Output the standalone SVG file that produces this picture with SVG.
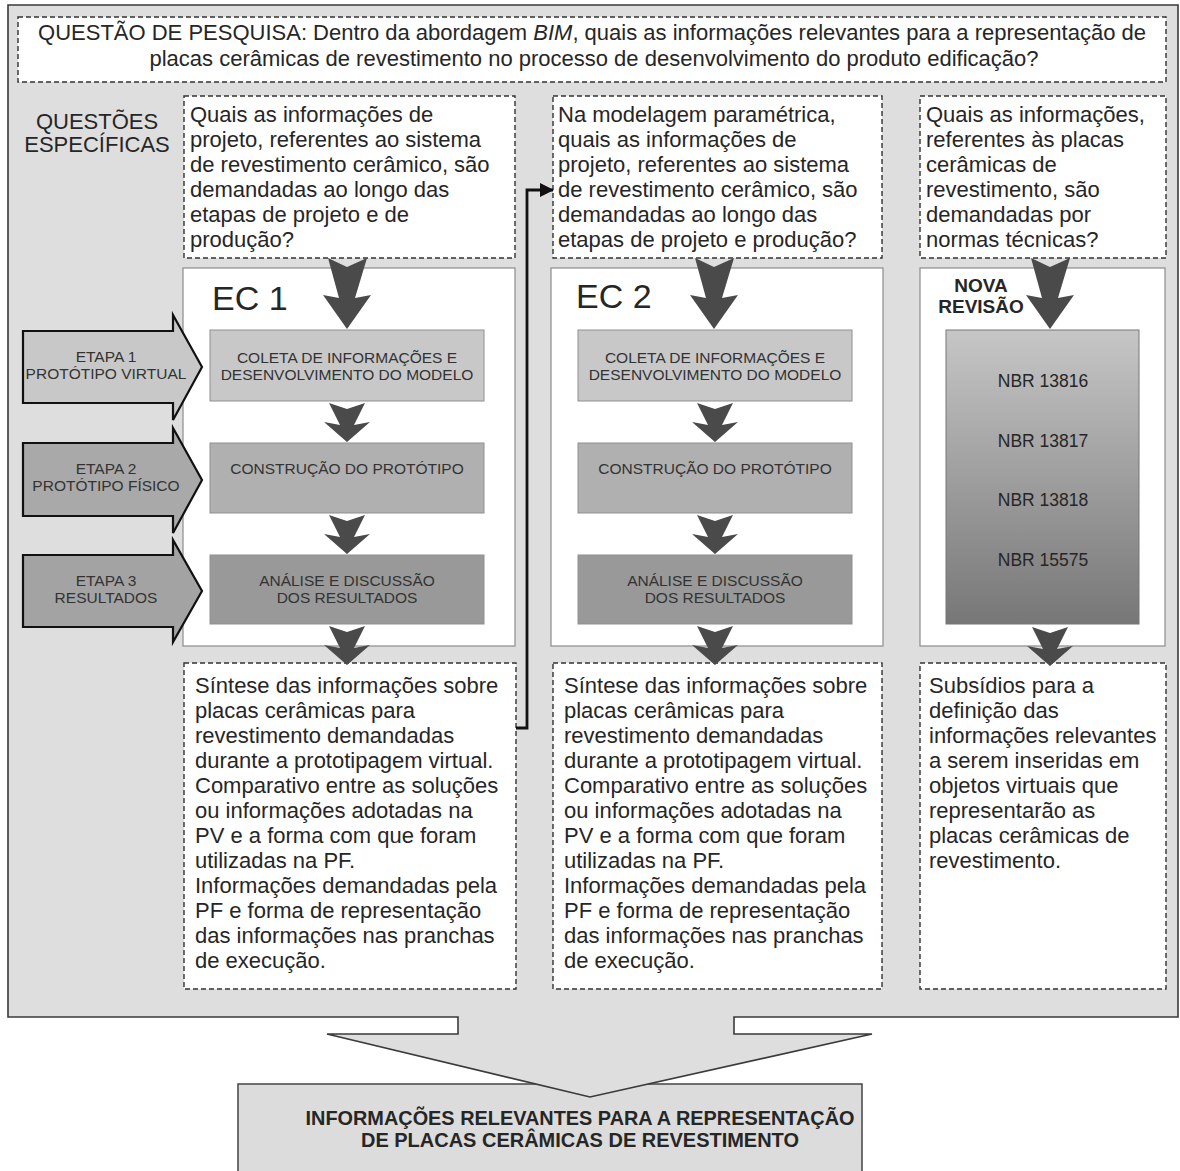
<svg xmlns="http://www.w3.org/2000/svg" width="1180" height="1171" viewBox="0 0 1180 1171">
<defs>
<style>
text{font-family:"Liberation Sans",Arial,sans-serif;fill:#262626}
.q{font-size:22px}
.dash{fill:#fff;stroke:#333;stroke-width:1.4;stroke-dasharray:5 3}
.panel{fill:#fff;stroke:#8c8c8c;stroke-width:1.2}
.lbl{font-size:15.5px;text-anchor:middle;fill:#333}
.arr{fill:#4a4a4a}
.etapa{stroke:#111;stroke-width:2.2}
.bx{stroke:#8f8f8f;stroke-width:1}
</style>
<linearGradient id="nbr" x1="0" y1="0" x2="0" y2="1">
<stop offset="0" stop-color="#c6c6c6"/>
<stop offset="1" stop-color="#777777"/>
</linearGradient>
<marker id="ah" viewBox="0 0 14 14" refX="13" refY="7" markerWidth="14" markerHeight="14" orient="auto" markerUnits="userSpaceOnUse">
<path d="M0,0 L14,7 L0,14 Z" fill="#111"/>
</marker>
<path id="big" d="M-19,0 L0,9 L20,0 L8,40 L24,37 L0,71 L-24,37 L-8,40 Z"/>
<path id="small" d="M-18,0 L0,6 L18,0 L7,22 L23,19 L0,39 L-23,19 L-7,22 Z"/>
</defs>

<g id="result">
<rect x="238" y="1084" width="624" height="95" fill="#dcdcdc" stroke="#444" stroke-width="1.5"/>
<text x="580" y="1125" text-anchor="middle" font-weight="bold" font-size="21" textLength="549" lengthAdjust="spacingAndGlyphs">INFORMAÇÕES RELEVANTES PARA A REPRESENTAÇÃO</text>
<text x="580" y="1147" text-anchor="middle" font-weight="bold" font-size="21" textLength="438" lengthAdjust="spacingAndGlyphs">DE PLACAS CERÂMICAS DE REVESTIMENTO</text>
</g>

<g id="frame">
<path d="M8,5 H1178 V1017 H734 V1034 H872 L590,1097 L327,1034 H458 V1017 H8 Z" fill="#dedede" stroke="#3a3a3a" stroke-width="1.6"/>
</g>

<g id="research-question">
<rect class="dash" x="18" y="17" width="1148" height="65"/>
<text class="q" x="592" y="40" text-anchor="middle">QUESTÃO DE PESQUISA: Dentro da abordagem <tspan font-style="italic">BIM</tspan>, quais as informações relevantes para a representação de</text>
<text class="q" x="594" y="66" text-anchor="middle">placas cerâmicas de revestimento no processo de desenvolvimento do produto edificação?</text>
</g>

<g id="label-specific">
<text class="q" x="97" y="129" text-anchor="middle">QUESTÕES</text>
<text class="q" x="97" y="152" text-anchor="middle">ESPECÍFICAS</text>
</g>

<g id="q1">
<rect class="dash" x="184" y="96" width="331" height="162"/>
<text class="q" x="190" y="122">Quais as informações de</text>
<text class="q" x="190" y="147">projeto, referentes ao sistema</text>
<text class="q" x="190" y="172">de revestimento cerâmico, são</text>
<text class="q" x="190" y="197">demandadas ao longo das</text>
<text class="q" x="190" y="222">etapas de projeto e de</text>
<text class="q" x="190" y="247">produção?</text>
</g>

<g id="q2">
<rect class="dash" x="553" y="96" width="329" height="162"/>
<text class="q" x="558" y="122">Na modelagem paramétrica,</text>
<text class="q" x="558" y="147">quais as informações de</text>
<text class="q" x="558" y="172">projeto, referentes ao sistema</text>
<text class="q" x="558" y="197">de revestimento cerâmico, são</text>
<text class="q" x="558" y="222">demandadas ao longo das</text>
<text class="q" x="558" y="247">etapas de projeto e produção?</text>
</g>

<g id="q3">
<rect class="dash" x="920" y="96" width="246" height="162"/>
<text class="q" x="926" y="122">Quais as informações,</text>
<text class="q" x="926" y="147">referentes às placas</text>
<text class="q" x="926" y="172">cerâmicas de</text>
<text class="q" x="926" y="197">revestimento, são</text>
<text class="q" x="926" y="222">demandadas por</text>
<text class="q" x="926" y="247">normas técnicas?</text>
</g>

<g id="ec1">
<rect class="panel" x="183" y="268" width="332" height="378"/>
<text x="212" y="310" font-size="34">EC 1</text>
<rect class="bx" x="210" y="330" width="274" height="71" fill="#c8c8c8"/>
<text class="lbl" x="347" y="363">COLETA DE INFORMAÇÕES E</text>
<text class="lbl" x="347" y="380">DESENVOLVIMENTO DO MODELO</text>
<rect class="bx" x="210" y="443" width="274" height="70" fill="#b0b0b0"/>
<text class="lbl" x="347" y="474">CONSTRUÇÃO DO PROTÓTIPO</text>
<rect class="bx" x="210" y="555" width="274" height="69" fill="#999999"/>
<text class="lbl" x="347" y="586">ANÁLISE E DISCUSSÃO</text>
<text class="lbl" x="347" y="603">DOS RESULTADOS</text>
</g>

<g id="ec2">
<rect class="panel" x="551" y="268" width="332" height="378"/>
<text x="576" y="308" font-size="34">EC 2</text>
<rect class="bx" x="578" y="330" width="274" height="71" fill="#c8c8c8"/>
<text class="lbl" x="715" y="363">COLETA DE INFORMAÇÕES E</text>
<text class="lbl" x="715" y="380">DESENVOLVIMENTO DO MODELO</text>
<rect class="bx" x="578" y="443" width="274" height="70" fill="#b0b0b0"/>
<text class="lbl" x="715" y="474">CONSTRUÇÃO DO PROTÓTIPO</text>
<rect class="bx" x="578" y="555" width="274" height="69" fill="#999999"/>
<text class="lbl" x="715" y="586">ANÁLISE E DISCUSSÃO</text>
<text class="lbl" x="715" y="603">DOS RESULTADOS</text>
</g>

<g id="nova-revisao">
<rect class="panel" x="920" y="268" width="245" height="378"/>
<text x="981" y="292" text-anchor="middle" font-weight="bold" font-size="19">NOVA</text>
<text x="981" y="313" text-anchor="middle" font-weight="bold" font-size="19">REVISÃO</text>
<rect x="946" y="330" width="193" height="294" fill="url(#nbr)" stroke="#777" stroke-width="1"/>
<text x="1043" y="387" text-anchor="middle" font-size="17.5">NBR 13816</text>
<text x="1043" y="447" text-anchor="middle" font-size="17.5">NBR 13817</text>
<text x="1043" y="506" text-anchor="middle" font-size="17.5">NBR 13818</text>
<text x="1043" y="566" text-anchor="middle" font-size="17.5">NBR 15575</text>
</g>

<g id="etapas">
<g id="etapa1">
<path class="etapa" d="M23,331 H173 V315 L202,367 L173,420 V403 H23 Z" fill="#c8c8c8"/>
<text class="lbl" x="106" y="362">ETAPA 1</text>
<text class="lbl" x="106" y="379">PROTÓTIPO VIRTUAL</text>
</g>
<g id="etapa2">
<path class="etapa" d="M23,443 H173 V428 L202,480 L173,533 V516 H23 Z" fill="#a9a9a9"/>
<text class="lbl" x="106" y="474">ETAPA 2</text>
<text class="lbl" x="106" y="491">PROTÓTIPO FÍSICO</text>
</g>
<g id="etapa3">
<path class="etapa" d="M23,555 H173 V540 L202,591 L173,642 V627 H23 Z" fill="#a3a3a3"/>
<text class="lbl" x="106" y="586">ETAPA 3</text>
<text class="lbl" x="106" y="603">RESULTADOS</text>
</g>
</g>

<g id="s1">
<rect class="dash" x="184" y="663" width="332" height="326"/>
<text class="q" x="195" y="693">Síntese das informações sobre</text>
<text class="q" x="195" y="718">placas cerâmicas para</text>
<text class="q" x="195" y="743">revestimento demandadas</text>
<text class="q" x="195" y="768">durante a prototipagem virtual.</text>
<text class="q" x="195" y="793">Comparativo entre as soluções</text>
<text class="q" x="195" y="818">ou informações adotadas na</text>
<text class="q" x="195" y="843">PV e a forma com que foram</text>
<text class="q" x="195" y="868">utilizadas na PF.</text>
<text class="q" x="195" y="893">Informações demandadas pela</text>
<text class="q" x="195" y="918">PF e forma de representação</text>
<text class="q" x="195" y="943">das informações nas pranchas</text>
<text class="q" x="195" y="968">de execução.</text>
</g>

<g id="s2">
<rect class="dash" x="553" y="663" width="329" height="326"/>
<text class="q" x="564" y="693">Síntese das informações sobre</text>
<text class="q" x="564" y="718">placas cerâmicas para</text>
<text class="q" x="564" y="743">revestimento demandadas</text>
<text class="q" x="564" y="768">durante a prototipagem virtual.</text>
<text class="q" x="564" y="793">Comparativo entre as soluções</text>
<text class="q" x="564" y="818">ou informações adotadas na</text>
<text class="q" x="564" y="843">PV e a forma com que foram</text>
<text class="q" x="564" y="868">utilizadas na PF.</text>
<text class="q" x="564" y="893">Informações demandadas pela</text>
<text class="q" x="564" y="918">PF e forma de representação</text>
<text class="q" x="564" y="943">das informações nas pranchas</text>
<text class="q" x="564" y="968">de execução.</text>
</g>

<g id="s3">
<rect class="dash" x="920" y="663" width="246" height="326"/>
<text class="q" x="929" y="693">Subsídios para a</text>
<text class="q" x="929" y="718">definição das</text>
<text class="q" x="929" y="743">informações relevantes</text>
<text class="q" x="929" y="768">a serem inseridas em</text>
<text class="q" x="929" y="793">objetos virtuais que</text>
<text class="q" x="929" y="818">representarão as</text>
<text class="q" x="929" y="843">placas cerâmicas de</text>
<text class="q" x="929" y="868">revestimento.</text>
</g>

<g id="connectors">
<use href="#big" class="arr" x="347" y="258"/>
<use href="#small" class="arr" x="347" y="403"/>
<use href="#small" class="arr" x="347" y="515"/>
<use href="#small" class="arr" x="347" y="626"/>
<use href="#big" class="arr" x="714" y="258"/>
<use href="#small" class="arr" x="715" y="403"/>
<use href="#small" class="arr" x="715" y="515"/>
<use href="#small" class="arr" x="715" y="626"/>
<use href="#big" class="arr" x="1050" y="258"/>
<use href="#small" class="arr" x="1050" y="627"/>
<path d="M516,728 H527 V190 H553" fill="none" stroke="#111" stroke-width="2.8" marker-end="url(#ah)"/>
</g>
</svg>
